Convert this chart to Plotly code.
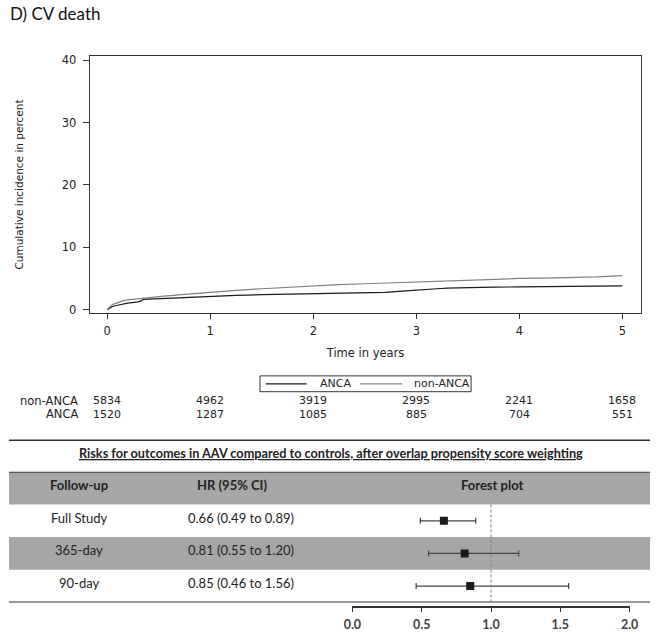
import plotly.graph_objects as go

W, H = 661, 641

# ---------------- data ----------------
years = [0, 1, 2, 3, 4, 5]
km_yticks = [0, 10, 20, 30, 40]

t_non = [0, 0.02, 0.05, 0.1, 0.15, 0.2, 0.3, 0.4, 0.5, 0.75, 1.0, 1.25, 1.5, 1.75,
         2.0, 2.25, 2.5, 2.75, 3.0, 3.25, 3.5, 3.75, 4.0, 4.25, 4.5, 4.75, 5.0]
ci_non = [0, 0.4, 0.8, 1.15, 1.4, 1.55, 1.75, 1.95, 2.1, 2.45, 2.8, 3.1, 3.35, 3.6,
          3.85, 4.0, 4.15, 4.3, 4.45, 4.6, 4.75, 4.9, 5.0, 5.05, 5.1, 5.25, 5.45]

t_anca = [0, 0.02, 0.05, 0.1, 0.15, 0.2, 0.3, 0.33, 0.35, 0.5, 0.75, 1.0, 1.25, 1.5,
          1.75, 2.0, 2.1, 2.15, 2.5, 2.7, 2.9, 3.0, 3.2, 3.3, 3.5, 3.75, 4.0, 4.25,
          4.45, 4.5, 4.75, 5.0]
ci_anca = [0, 0.25, 0.5, 0.7, 0.9, 1.05, 1.25, 1.4, 1.65, 1.75, 1.95, 2.2, 2.3, 2.4,
           2.5, 2.55, 2.6, 2.68, 2.7, 2.78, 3.0, 3.15, 3.35, 3.45, 3.55, 3.6, 3.65, 3.7,
           3.75, 3.8, 3.8, 3.8]

series_names = ["ANCA", "non-ANCA"]
series_colors = ["#1a1a1a", "#808080"]

risk_labels = ["non-ANCA", "ANCA"]
risk_nonanca = [5834, 4962, 3919, 2995, 2241, 1658]
risk_anca = [1520, 1287, 1085, 885, 704, 551]

table_title = "Risks for outcomes in AAV compared to controls, after overlap propensity score weighting"
headers = ["Follow-up", "HR (95% CI)", "Forest plot"]
followup = ["Full Study", "365-day", "90-day"]
hr = [0.66, 0.81, 0.85]
hr_lo = [0.49, 0.55, 0.46]
hr_hi = [0.89, 1.20, 1.56]
hr_text = ["0.66 (0.49 to 0.89)", "0.81 (0.55 to 1.20)", "0.85 (0.46 to 1.56)"]
forest_ticks = [0.0, 0.5, 1.0, 1.5, 2.0]


def fx(px):
    return px / W


def fy(py):
    return 1 - py / H


KM_FONT = "DejaVu Sans"
TB_FONT = "Lato"
rows = list(range(len(followup)))

fig = go.Figure()

# KM curves
fig.add_trace(go.Scatter(x=t_anca, y=ci_anca, mode="lines", name=series_names[0],
                         line=dict(color=series_colors[0], width=1.2), xaxis="x", yaxis="y"))
fig.add_trace(go.Scatter(x=t_non, y=ci_non, mode="lines", name=series_names[1],
                         line=dict(color=series_colors[1], width=1.2), xaxis="x", yaxis="y"))

# Forest plot
fig.add_trace(go.Scatter(
    x=hr, y=rows, mode="markers", showlegend=False,
    marker=dict(symbol="square", size=8, color="#1a1a1a"),
    error_x=dict(type="data", symmetric=False,
                 array=[h - m for h, m in zip(hr_hi, hr)],
                 arrayminus=[m - l for m, l in zip(hr, hr_lo)],
                 color="#444444", thickness=1.2, width=3),
    xaxis="x3", yaxis="y3"))

shapes = []
# gray bands
shapes.append(dict(type="rect", xref="paper", yref="y3", x0=0, x1=fx(659), y0=-1.5, y1=-0.5,
                   fillcolor="#a6a6a6", line=dict(width=0), layer="below"))
shapes.append(dict(type="rect", xref="paper", yref="y3", x0=0, x1=fx(659), y0=0.5, y1=1.5,
                   fillcolor="#a6a6a6", line=dict(width=0), layer="below"))
# horizontal rules
shapes.append(dict(type="line", xref="paper", yref="paper", x0=0, x1=fx(659), y0=fy(442), y1=fy(442),
                   line=dict(color="#333333", width=1.5)))
shapes.append(dict(type="line", xref="paper", yref="y3", x0=0, x1=fx(659), y0=-1.5, y1=-1.5,
                   line=dict(color="#404040", width=2)))
shapes.append(dict(type="line", xref="paper", yref="y3", x0=0, x1=fx(659), y0=2.5, y1=2.5,
                   line=dict(color="#333333", width=2)))
# reference line at HR = 1
shapes.append(dict(type="line", xref="x3", yref="y3", x0=1, x1=1, y0=-0.5, y1=2.5,
                   line=dict(color="#808080", width=1, dash="3px,2px")))

# legend box (manual)
shapes.append(dict(type="rect", xref="paper", yref="paper", x0=fx(258), x1=fx(475),
                   y0=fy(393), y1=fy(377), line=dict(color="#333333", width=1), fillcolor="white"))
leg_lines = [(264, 306), (361, 404)]
leg_text_x = [318, 414]
for (a, b), c in zip(leg_lines, series_colors):
    shapes.append(dict(type="line", xref="paper", yref="paper", x0=fx(a), x1=fx(b),
                       y0=fy(385), y1=fy(385), line=dict(color=c, width=1.2)))

ann = []
for nm, xp in zip(series_names, leg_text_x):
    ann.append(dict(text=nm, xref="paper", yref="paper", x=fx(xp), y=fy(385), xanchor="left",
                    yanchor="middle", showarrow=False, font=dict(family=KM_FONT, size=11, color="#222")))

ann.append(dict(text="D) CV death", xref="paper", yref="paper", x=0, y=1, yshift=1, xanchor="left",
                yanchor="top", showarrow=False, borderpad=0,
                font=dict(family=TB_FONT, size=17, color="#111")))
# risk table
for lab, yy in zip(risk_labels, [402, 416]):
    ann.append(dict(text=lab, xref="paper", yref="paper", x=fx(73), y=fy(yy), xanchor="right",
                    yanchor="middle", showarrow=False, font=dict(family=KM_FONT, size=11.5, color="#222")))
for vals, yy in zip([risk_nonanca, risk_anca], [402, 416]):
    for xv, v in zip(years, vals):
        ann.append(dict(text=str(v), xref="x", yref="paper", x=xv, y=fy(yy), xanchor="center",
                        yanchor="middle", showarrow=False, font=dict(family=KM_FONT, size=11, color="#222")))
# table title
ann.append(dict(text="<b>" + table_title + "</b>", xref="paper", yref="paper", x=fx(330.5), y=fy(455),
                xanchor="center", yanchor="middle", showarrow=False,
                font=dict(family=TB_FONT, size=12.7, color="#222", lineposition="under")))
# headers
for h, xp in zip(headers, [72, 229, 497]):
    ann.append(dict(text="<b>" + h + "</b>", xref="paper", yref="y3", x=fx(xp), y=-1, yshift=3,
                    xanchor="center", yanchor="middle", showarrow=False,
                    font=dict(family=TB_FONT, size=13, color="#222")))
for r, f, t in zip(rows, followup, hr_text):
    ann.append(dict(text=f, xref="paper", yref="y3", x=fx(72), y=r, yshift=3, xanchor="center",
                    yanchor="middle", showarrow=False, font=dict(family=TB_FONT, size=13, color="#222")))
    ann.append(dict(text=t, xref="paper", yref="y3", x=fx(238), y=r, yshift=3, xanchor="center",
                    yanchor="middle", showarrow=False, font=dict(family=TB_FONT, size=13, color="#222")))

fig.update_layout(
    width=W, height=H, margin=dict(l=0, r=0, t=0, b=0),
    paper_bgcolor="white", plot_bgcolor="rgba(0,0,0,0)",
    shapes=shapes, annotations=ann,
    showlegend=False,
    xaxis=dict(domain=[fx(83), fx(650)], range=[-0.17, 5.184], tickvals=years,
               ticks="outside", ticklen=5, tickcolor="#333", showline=True, mirror=True,
               linecolor="#333", linewidth=1, showgrid=False, zeroline=False, anchor="y",
               ticklabelstandoff=3,
               tickfont=dict(family=KM_FONT, size=11.5, color="#222"),
               title=dict(text="Time in years", standoff=11,
                          font=dict(family=KM_FONT, size=11.5, color="#222"))),
    yaxis=dict(domain=[fy(313), fy(54)], range=[-0.476, 40.63], tickvals=km_yticks,
               ticks="outside", ticklen=6, tickcolor="#333", showline=True, mirror=True,
               linecolor="#333", linewidth=1, showgrid=False, zeroline=False, anchor="x",
               ticklabelstandoff=4,
               tickfont=dict(family=KM_FONT, size=11.5, color="#222"),
               title=dict(text="Cumulative incidence in percent", standoff=36,
                          font=dict(family=KM_FONT, size=10.5, color="#222"))),
    xaxis3=dict(domain=[fx(353), fx(638)], range=[0, 2], tickvals=forest_ticks,
                ticktext=[f"{v:.1f}" for v in forest_ticks], anchor="free", position=fy(611),
                ticks="outside", ticklen=4, tickcolor="#333", showline=True, linecolor="#333",
                linewidth=1.5, showgrid=False, zeroline=False, ticklabelstandoff=2,
                tickfont=dict(family=TB_FONT, size=12.5, color="#404040", weight="bold")),
    yaxis3=dict(domain=[fy(606), fy(474)], range=[2.5, -1.5], visible=False, anchor="x3",
                showgrid=False, zeroline=False),
)

fig.write_html("out.html", config={"displayModeBar": False},
               post_script="document.body.style.margin='0';")
